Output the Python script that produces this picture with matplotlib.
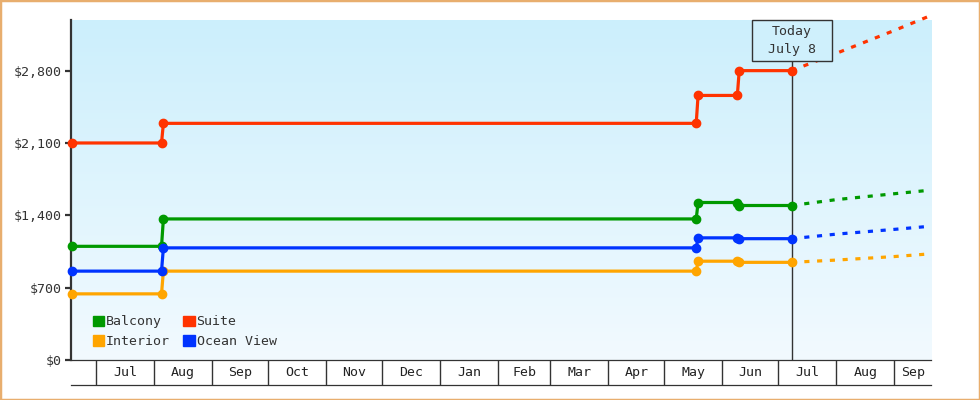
import numpy as np
import pandas as pd
import matplotlib
matplotlib.use('Agg')
import matplotlib.pyplot as plt
import matplotlib.dates as mdates
import matplotlib.transforms as mtransforms
from matplotlib.patches import Rectangle, Patch

# price history (step points) and forecast
step_dates = ['2018-06-18', '2018-08-05', '2018-08-06', '2019-05-18',
              '2019-05-19', '2019-06-09', '2019-06-10', '2019-07-08']
suite = [2100, 2100, 2290, 2290, 2560, 2560, 2800, 2800]
balcony = [1100, 1100, 1365, 1365, 1524, 1524, 1495, 1495]
ocean_view = [860, 860, 1085, 1085, 1182, 1182, 1174, 1174]
interior = [640, 640, 860, 860, 956, 956, 945, 945]

fc_dates = ['2019-07-08', '2019-08-01', '2019-09-01', '2019-09-20']
suite_fc = [2800, 2968, 3189, 3330]
balcony_fc = [1495, 1552, 1609, 1643]
ocean_view_fc = [1174, 1218, 1264, 1294]
interior_fc = [945, 967, 1001, 1027]

month_starts = ['2018-07-01', '2018-08-01', '2018-09-01', '2018-10-01',
                '2018-11-01', '2018-12-01', '2019-01-01', '2019-02-01',
                '2019-03-01', '2019-04-01', '2019-05-01', '2019-06-01',
                '2019-07-01', '2019-08-01', '2019-09-01']
month_labels = ['Jul', 'Aug', 'Sep', 'Oct', 'Nov', 'Dec', 'Jan', 'Feb',
                'Mar', 'Apr', 'May', 'Jun', 'Jul', 'Aug', 'Sep']
y_ticks = [0, 700, 1400, 2100, 2800]

x_start = pd.Timestamp('2018-06-17 14:00')
x_end = pd.Timestamp('2019-09-20 14:00')
today = pd.Timestamp('2019-07-08')

DARK = '#333333'
FONT = 'DejaVu Sans Mono'
plt.rcParams['font.family'] = FONT

fig = plt.figure(figsize=(9.8, 4.0), dpi=100)
fig.patch.set_facecolor('white')
fig.patches.append(Rectangle((0, 0), 1, 1, transform=fig.transFigure,
                             fill=False, edgecolor='#E8AE6E', linewidth=2.5))

ax = fig.add_axes([71 / 980, 40 / 400, 860 / 980, 340 / 400])
# gradient background
grad = np.linspace(0, 1, 256).reshape(-1, 1)
top_c = np.array([0xCC, 0xEF, 0xFC]) / 255
bot_c = np.array([0xF2, 0xFA, 0xFF]) / 255
img = top_c[None, None, :] * (1 - grad[:, :, None]) + bot_c[None, None, :] * grad[:, :, None]
ax.imshow(img, extent=[0, 1, 0, 1], transform=ax.transAxes, aspect='auto', zorder=0)

series = [
    ('Balcony', balcony, balcony_fc, '#009900'),
    ('Interior', interior, interior_fc, '#FFA500'),
    ('Suite', suite, suite_fc, '#FF3300'),
    ('Ocean View', ocean_view, ocean_view_fc, '#0033FF'),
]
sd = pd.to_datetime(step_dates)
fd = pd.to_datetime(fc_dates)
handles = []
for name, vals, fc, col in series:
    ax.plot(sd, vals, color=col, lw=2.3, marker='o', ms=6, zorder=4, clip_on=False)
    ax.plot(fd, fc, color=col, lw=2.3, ls=(0, (1.6, 2.4)), zorder=3, clip_on=False)
    handles.append(Patch(facecolor=col, edgecolor=col, label=name))

ax.set_xlim(x_start, x_end)
ax.set_ylim(0, 3290)

# today marker
tr = mtransforms.blended_transform_factory(ax.transData, ax.transAxes)
tnum = mdates.date2num(today)
box_h = 40.7 / 340
ax.plot([tnum, tnum], [0, 1 - box_h], color=DARK, lw=1.0, transform=tr, zorder=2)
ax.add_patch(Rectangle((tnum - 21.4, 1 - box_h), 42.8, box_h, transform=tr,
                       facecolor='#CFF0FC', edgecolor=DARK, lw=1.0, zorder=5,
                       clip_on=False))
ax.text(tnum, 1 - 12 / 340, 'Today', transform=tr, ha='center', va='center',
        fontsize=9.5, color=DARK, zorder=6)
ax.text(tnum, 1 - 30 / 340, 'July 8', transform=tr, ha='center', va='center',
        fontsize=9.5, color=DARK, zorder=6)

for s in ['top', 'right']:
    ax.spines[s].set_visible(False)
ax.spines['left'].set_color(DARK)
ax.spines['left'].set_linewidth(1.6)
ax.spines['bottom'].set_color(DARK)
ax.spines['bottom'].set_linewidth(0.9)
ax.set_xticks([])
ax.set_yticks(y_ticks)
ax.set_yticklabels(['${:,}'.format(v) for v in y_ticks])
ax.tick_params(axis='y', length=4, width=1.6, color=DARK, labelcolor=DARK,
               labelsize=9.5, pad=3)

ax.legend(handles=handles, ncol=2, loc='lower left',
          bbox_to_anchor=(22 / 860, 12 / 340), borderaxespad=0, borderpad=0,
          frameon=False, fontsize=9.5, handlelength=0.85, handleheight=0.85,
          handletextpad=0.15, columnspacing=1.0, labelspacing=0.5,
          labelcolor=DARK)

# month band under the plot
bx = fig.add_axes([71 / 980, 15 / 400, 860 / 980, 25 / 400])
bx.set_xlim(x_start, x_end)
bx.set_ylim(0, 1)
bx.patch.set_alpha(0)
ms = pd.to_datetime(month_starts)
bx.vlines(ms, 0, 1, color=DARK, lw=1.0)
edges = list(ms) + [x_end]
for i, lab in enumerate(month_labels):
    mid = edges[i] + (edges[i + 1] - edges[i]) / 2
    bx.text(mid, 0.5, lab, ha='center', va='center', fontsize=9.5, color='#222222')
for s in ['top', 'left', 'right']:
    bx.spines[s].set_visible(False)
bx.spines['bottom'].set_color(DARK)
bx.spines['bottom'].set_linewidth(0.9)
bx.set_xticks([])
bx.set_yticks([])

fig.savefig('out.png', dpi=100)
